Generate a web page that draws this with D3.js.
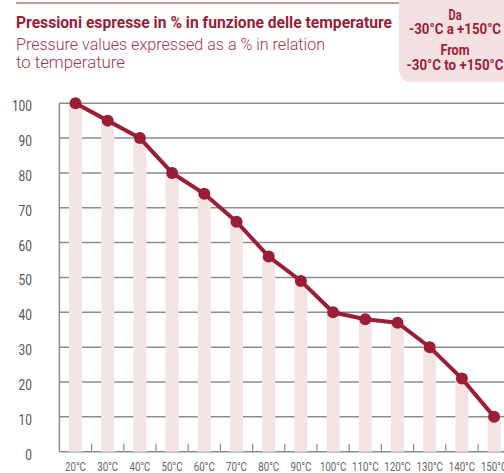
<!DOCTYPE html>
<html>
<head>
<meta charset="utf-8">
<script src="https://cdn.jsdelivr.net/npm/d3@7"></script>
<style>
  body { margin: 0; background: #fff; }
  svg { display: block; font-family: Roboto, "Noto Sans", sans-serif; }
</style>
</head>
<body>
<div id="chart"></div>
<script>
const temps = ['20°C', '30°C', '40°C', '50°C', '60°C', '70°C', '80°C', '90°C', '100°C', '110°C', '120°C', '130°C', '140°C', '150°C'];
const pressures = [100, 95, 90, 80, 74, 66, 56, 49, 40, 38, 37, 30, 21, 10];
const yTicks = [0, 10, 20, 30, 40, 50, 60, 70, 80, 90, 100];

const titleIt = 'Pressioni espresse in % in funzione delle temperature';
const titleEn = ['Pressure values expressed as a % in relation', 'to temperature'];
const rangeLines = ['Da', '-30°C a +150°C', 'From', '-30°C to +150°C'];

function makeChart() {
    const width = 504,
        height = 473;

    const red = '#9b1d36',
        pink = '#f4e3e3',
        grid = '#8c8c8c';

    const svg = d3.select('#chart').append('svg')
        .attr('width', width)
        .attr('height', height);

    // header
    svg.append('line')
        .attr('x1', 16).attr('x2', 400)
        .attr('y1', 3).attr('y2', 3)
        .attr('stroke', '#b8737e')
        .attr('stroke-width', 1.5);

    svg.append('path')
        .attr('d', 'M399,0H504V82H413Q399,82 399,68Z')
        .attr('fill', '#f3e1e1');

    svg.append('text')
        .attr('x', 16).attr('y', 28)
        .attr('font-size', 17)
        .attr('font-weight', 700)
        .attr('fill', red)
        .attr('textLength', 376)
        .attr('lengthAdjust', 'spacingAndGlyphs')
        .text(titleIt);

    svg.selectAll('.sub')
        .data(titleEn)
        .enter().append('text')
        .attr('class', 'sub')
        .attr('x', 16)
        .attr('y', (d, i) => 50 + i * 18)
        .attr('font-size', 17)
        .attr('font-weight', 300)
        .attr('fill', '#a5364b')
        .attr('textLength', (d, i) => i === 0 ? 309 : 109)
        .attr('lengthAdjust', 'spacingAndGlyphs')
        .text(d => d);

    // small range box, widths
    const rangeY = [20, 34, 55, 70],
        rangeW = [13, 92, 29, 97];

    svg.selectAll('.range')
        .data(rangeLines)
        .enter().append('text')
        .attr('class', 'range')
        .attr('x', 455)
        .attr('y', (d, i) => rangeY[i])
        .attr('text-anchor', 'middle')
        .attr('font-size', 14.5)
        .attr('font-weight', 700)
        .attr('fill', red)
        .attr('textLength', (d, i) => rangeW[i])
        .attr('lengthAdjust', 'spacingAndGlyphs')
        .text(d => d);

    // plot
    const left = 59.4,
        step = 32.2;

    const x = d3.scaleBand()
        .domain(temps)
        .range([left, left + step * temps.length]);

    const y = d3.scaleLinear()
        .domain([0, 100])
        .range([451.7, 103.2]);

    const gridG = svg.append('g');

    gridG.selectAll('line')
        .data(yTicks)
        .enter().append('line')
        .attr('x1', left).attr('x2', width)
        .attr('y1', d => y(d)).attr('y2', d => y(d))
        .attr('stroke', grid)
        .attr('stroke-width', 1.5);

    gridG.append('line')
        .attr('x1', left).attr('x2', left)
        .attr('y1', y(100)).attr('y2', y(0))
        .attr('stroke', grid)
        .attr('stroke-width', 1.5);

    svg.append('g').selectAll('text')
        .data(yTicks)
        .enter().append('text')
        .attr('x', 32)
        .attr('y', d => y(d) + 8)
        .attr('text-anchor', 'end')
        .attr('font-size', 14)
        .attr('fill', '#555')
        .text(d => d)
        .each(function() {
            const w = this.getComputedTextLength();
            d3.select(this).attr('textLength', w * 0.85).attr('lengthAdjust', 'spacingAndGlyphs');
        });

    // bars
    svg.append('g').selectAll('rect')
        .data(pressures)
        .enter().append('rect')
        .attr('x', (d, i) => x(temps[i]) + x.bandwidth() / 2 - 6.5)
        .attr('width', 13)
        .attr('y', d => y(d))
        .attr('height', d => y(0) - y(d))
        .attr('fill', pink);

    // x ticks at band edges
    svg.append('g').selectAll('line')
        .data(temps.slice(1))
        .enter().append('line')
        .attr('x1', d => x(d)).attr('x2', d => x(d))
        .attr('y1', y(0)).attr('y2', y(0) - 8)
        .attr('stroke', grid)
        .attr('stroke-width', 1.2);

    svg.append('g').selectAll('text')
        .data(temps)
        .enter().append('text')
        .attr('x', d => x(d) + x.bandwidth() / 2)
        .attr('y', 471)
        .attr('text-anchor', 'middle')
        .attr('font-size', 13)
        .attr('fill', '#666')
        .text(d => d)
        .each(function() {
            const w = this.getComputedTextLength();
            d3.select(this).attr('textLength', w * 0.75).attr('lengthAdjust', 'spacingAndGlyphs');
        });

    // line + points
    const line = d3.line()
        .x((d, i) => x(temps[i]) + x.bandwidth() / 2)
        .y(d => y(d));

    svg.append('path')
        .datum(pressures)
        .attr('d', line)
        .attr('fill', 'none')
        .attr('stroke', red)
        .attr('stroke-width', 4);

    svg.append('g').selectAll('circle')
        .data(pressures)
        .enter().append('circle')
        .attr('cx', (d, i) => x(temps[i]) + x.bandwidth() / 2)
        .attr('cy', d => y(d))
        .attr('r', 6)
        .attr('fill', red);
}

makeChart();
</script>
</body>
</html>
